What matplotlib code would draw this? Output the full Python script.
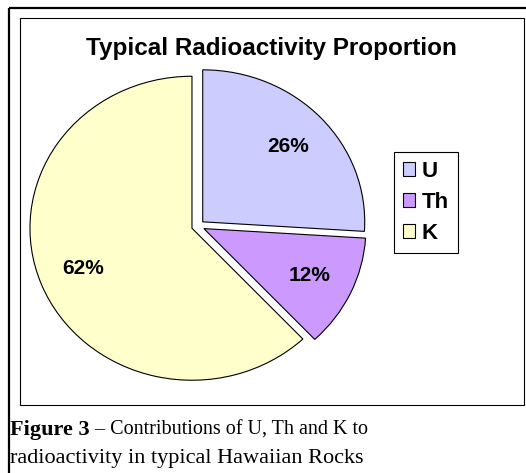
import matplotlib
matplotlib.use("Agg")
import matplotlib.pyplot as plt
from matplotlib.patches import Rectangle

# Data
labels = ["U", "Th", "K"]
shares = [26, 12, 62]
colors = ["#CCCCFF", "#CC99FF", "#FFFFCC"]

title = "Typical Radioactivity Proportion"
caption_bold = "Figure 3"
caption_rest = " \u2013 Contributions of U, Th and K to"
caption_line2 = "radioactivity in typical Hawaiian Rocks"

W, H = 526, 473
fig = plt.figure(figsize=(W / 100, H / 100), dpi=100)

# Background layer in pixel coordinates (frames + texts)
bg = fig.add_axes([0, 0, 1, 1])
bg.set_xlim(0, W)
bg.set_ylim(H, 0)
bg.axis("off")

# outer border and chart box
bg.add_patch(Rectangle((8.5, 8.5), 540, 500, fill=False,
                       edgecolor="black", linewidth=1.6))
bg.add_patch(Rectangle((19.5, 18.5), 504.5, 386.5, fill=False,
                       edgecolor="black", linewidth=0.8))

bg.text(271, 48, title, ha="center", va="center",
        fontsize=17.5, fontweight="bold", family="Liberation Sans")

# caption, bold part followed by the regular part
t1 = bg.text(10, 435, caption_bold, ha="left", va="baseline",
             fontsize=16, fontweight="bold", family="Liberation Serif")
bg.annotate(caption_rest, xy=(1, 0), xycoords=t1, va="bottom",
            ha="left", fontsize=14.5, family="Liberation Serif")
bg.text(10, 463, caption_line2, ha="left", va="baseline",
        fontsize=16, family="Liberation Serif")

# Pie (slightly elliptic, like the original)
cx, cy = 198, 226
rx, ry = 162, 152
lim = 1.15
ax = fig.add_axes([(cx - lim * rx) / W, (H - cy - lim * ry) / H,
                   2 * lim * rx / W, 2 * lim * ry / H])
wedges, texts, autotexts = ax.pie(
    shares,
    colors=colors,
    startangle=90,
    counterclock=False,
    explode=[0.04, 0.04, 0.04],
    autopct="%d%%",
    pctdistance=0.72,
    wedgeprops=dict(edgecolor="black", linewidth=0.8),
    textprops=dict(fontsize=15, fontweight="bold", family="Liberation Sans"),
)
ax.set_aspect("auto")
ax.set_xlim(-lim, lim)
ax.set_ylim(-lim, lim)
ax.axis("off")

leg = fig.legend(
    wedges, labels,
    loc="center",
    bbox_to_anchor=(426 / W, 1 - 202.5 / H),
    prop=dict(family="Liberation Sans", weight="bold", size=16),
    handlelength=0.55,
    handleheight=0.55,
    handletextpad=0.3,
    labelspacing=0.45,
    borderpad=0.4,
    fancybox=False,
    framealpha=1,
    edgecolor="black",
)
leg.get_frame().set_linewidth(0.8)

fig.savefig("out.png", dpi=100)
